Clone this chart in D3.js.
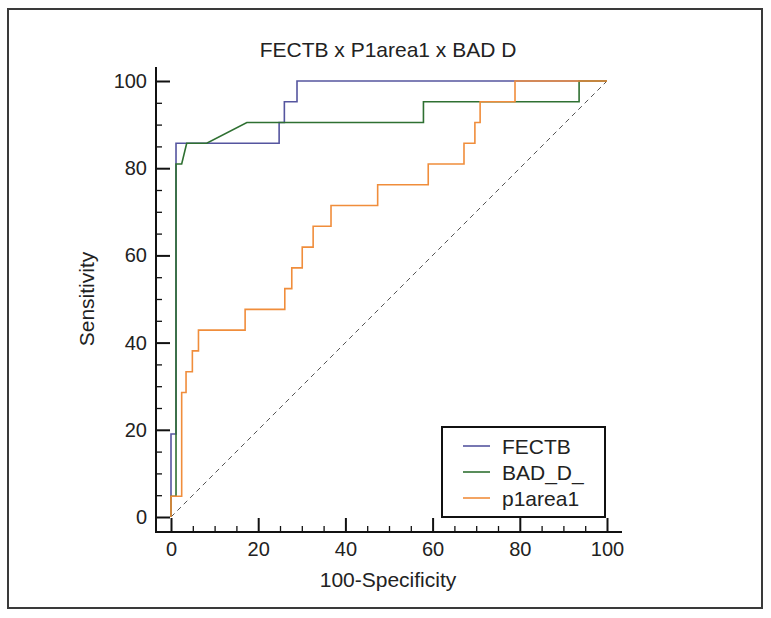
<!DOCTYPE html>
<html>
<head>
<meta charset="utf-8">
<script src="https://cdn.jsdelivr.net/npm/d3@7"></script>
<style>
  html, body { margin: 0; padding: 0; background: #fff; }
  svg { display: block; font-family: "Liberation Sans", Arial, sans-serif; }
</style>
</head>
<body>
<svg id="chart" width="771" height="618"></svg>
<script>
// ---- data (ROC curve vertices: 100-Specificity, Sensitivity) ----
const seriesNames = ["FECTB", "BAD_D_", "p1area1"];
const fectbX = [0, 0, 1.15, 1.15, 24.8, 24.8, 26.0, 26.0, 28.9, 28.9, 100];
const fectbY = [0, 19.05, 19.05, 85.71, 85.71, 90.48, 90.48, 95.24, 95.24, 100, 100];
const badX = [0, 0, 1.15, 1.15, 2.45, 3.6, 8.2, 17.4, 57.9, 57.9, 93.6, 93.6, 100];
const badY = [0, 4.76, 4.76, 80.95, 80.95, 85.71, 85.71, 90.48, 90.48, 95.24, 95.24, 100, 100];
const p1X = [0, 0, 2.45, 2.45, 3.45, 3.45, 4.9, 4.9, 6.3, 6.3, 17.0, 17.0, 26.1, 26.1, 27.7, 27.7,
             30.1, 30.1, 32.6, 32.6, 36.7, 36.7, 47.4, 47.4, 59.0, 59.0, 67.2, 67.2, 69.7, 69.7,
             70.9, 70.9, 78.9, 78.9, 100];
const p1Y = [0, 4.76, 4.76, 28.57, 28.57, 33.33, 33.33, 38.10, 38.10, 42.86, 42.86, 47.62, 47.62,
             52.38, 52.38, 57.14, 57.14, 61.90, 61.90, 66.67, 66.67, 71.43, 71.43, 76.19, 76.19,
             80.95, 80.95, 85.71, 85.71, 90.48, 90.48, 95.24, 95.24, 100, 100];
const diagX = [0, 100];
const diagY = [0, 100];
const majorTicks = [0, 20, 40, 60, 80, 100];
const minorTicks = [5, 10, 15, 25, 30, 35, 45, 50, 55, 65, 70, 75, 85, 90, 95];
const titleText = "FECTB x P1area1 x BAD D";
const xLabel = "100-Specificity";
const yLabel = "Sensitivity";

const colors = ["#55559f", "#2f7032", "#f08d3b"];

// ---- layout ----
const svg = d3.select("#chart");
const x = d3.scaleLinear().domain([0, 100]).range([171, 607]);
const y = d3.scaleLinear().domain([0, 100]).range([517, 81]);
const baseY = 532, baseX = 156, axisTop = 67, axisRight = 622;

// outer frame
svg.append("rect").attr("x", 8).attr("y", 9).attr("width", 754).attr("height", 599)
  .attr("fill", "#fff").attr("stroke", "#3a3a3a").attr("stroke-width", 2);

// title
svg.append("text").attr("x", 388).attr("y", 57).attr("text-anchor", "middle")
  .attr("font-size", 21).attr("fill", "#222").text(titleText);

// diagonal reference
svg.append("path")
  .datum(diagX.map((d, i) => [d, diagY[i]]))
  .attr("d", d3.line().x(d => x(d[0])).y(d => y(d[1])))
  .attr("fill", "none").attr("stroke", "#555").attr("stroke-width", 1)
  .attr("stroke-dasharray", "5,4");

// curves
const line = d3.line().x(d => x(d[0])).y(d => y(d[1]));
const series = [
  [fectbX, fectbY],
  [badX, badY],
  [p1X, p1Y]
];
series.forEach((s, k) => {
  svg.append("path")
    .datum(s[0].map((d, i) => [d, s[1][i]]))
    .attr("d", line)
    .attr("fill", "none").attr("stroke", colors[k]).attr("stroke-width", 1.6)
    .attr("stroke-linejoin", "miter");
});

// axes
const gx = svg.append("g").attr("transform", `translate(0,${baseY})`);
gx.call(d3.axisBottom(x).tickValues(minorTicks).tickSizeInner(-6).tickSizeOuter(0).tickFormat(""));
gx.select(".domain").remove();
gx.selectAll("line").attr("stroke", "#111").attr("stroke-width", 1.3);
const gx2 = svg.append("g").attr("transform", `translate(0,${baseY})`);
gx2.call(d3.axisBottom(x).tickValues(majorTicks).tickSizeInner(-14).tickSizeOuter(0).tickPadding(10).tickFormat(d3.format("d")));
gx2.select(".domain").remove();
gx2.selectAll("line").attr("stroke", "#111").attr("stroke-width", 2);
gx2.selectAll("text").attr("font-size", 20).attr("fill", "#222").attr("font-family", "Liberation Sans, Arial, sans-serif");

const gy = svg.append("g").attr("transform", `translate(${baseX},0)`);
gy.call(d3.axisLeft(y).tickValues(minorTicks).tickSizeInner(-6).tickSizeOuter(0).tickFormat(""));
gy.select(".domain").remove();
gy.selectAll("line").attr("stroke", "#111").attr("stroke-width", 1.3);
const gy2 = svg.append("g").attr("transform", `translate(${baseX},0)`);
gy2.call(d3.axisLeft(y).tickValues(majorTicks).tickSizeInner(-14).tickSizeOuter(0).tickPadding(9).tickFormat(d3.format("d")));
gy2.select(".domain").remove();
gy2.selectAll("line").attr("stroke", "#111").attr("stroke-width", 2);
gy2.selectAll("text").attr("font-size", 20).attr("fill", "#222").attr("font-family", "Liberation Sans, Arial, sans-serif");

// axis lines
svg.append("line").attr("x1", baseX).attr("x2", axisRight).attr("y1", baseY).attr("y2", baseY)
  .attr("stroke", "#111").attr("stroke-width", 2);
svg.append("line").attr("x1", baseX).attr("x2", baseX).attr("y1", axisTop).attr("y2", baseY + 1)
  .attr("stroke", "#111").attr("stroke-width", 2);

// axis titles
svg.append("text").attr("x", 388).attr("y", 587).attr("text-anchor", "middle")
  .attr("font-size", 21).attr("fill", "#222").text(xLabel);
svg.append("text").attr("transform", "translate(94,299) rotate(-90)").attr("text-anchor", "middle")
  .attr("font-size", 21).attr("fill", "#222").text(yLabel);

// legend
const lg = svg.append("g");
lg.append("rect").attr("x", 442).attr("y", 427).attr("width", 163).attr("height", 90)
  .attr("fill", "#fff").attr("stroke", "#111").attr("stroke-width", 2);
const legendY = [446, 472, 498];
seriesNames.forEach((name, k) => {
  lg.append("line").attr("x1", 463).attr("x2", 490).attr("y1", legendY[k]).attr("y2", legendY[k])
    .attr("stroke", colors[k]).attr("stroke-width", 1.6);
  lg.append("text").attr("x", 502).attr("y", legendY[k]).attr("dy", "0.36em")
    .attr("font-size", 21).attr("fill", "#222").text(name);
});
</script>
</body>
</html>
